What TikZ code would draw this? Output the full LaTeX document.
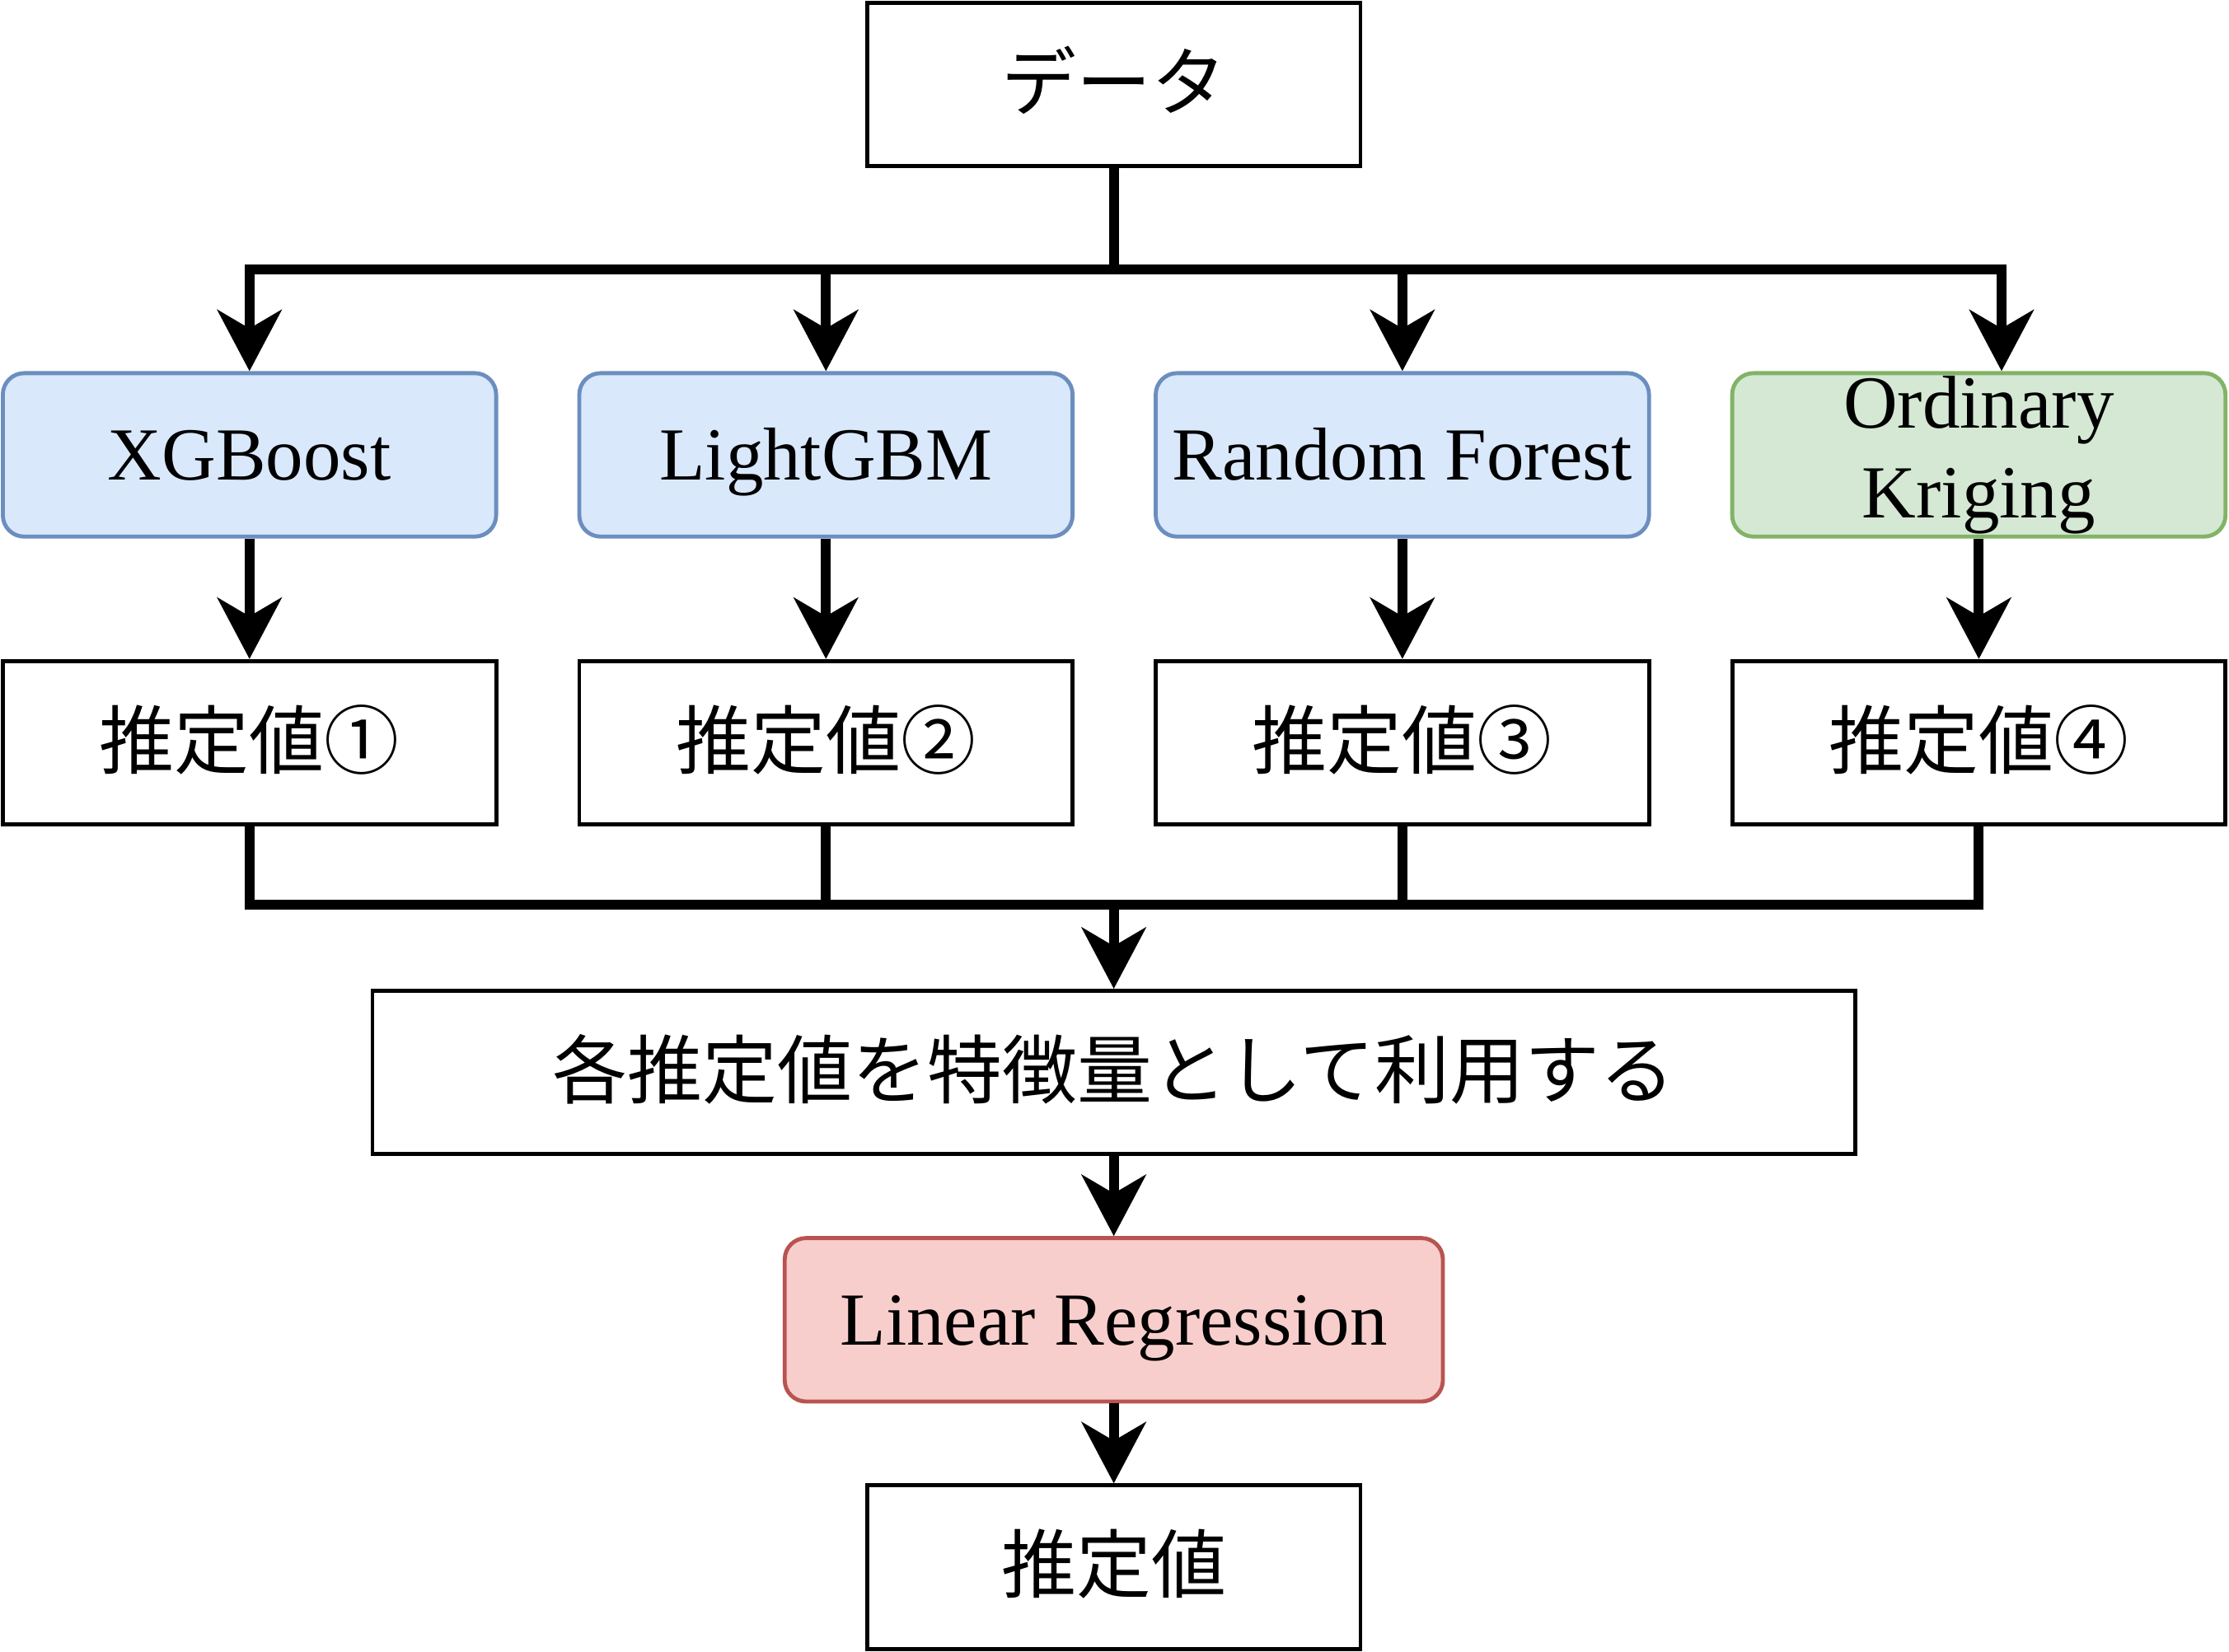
\documentclass[tikz,border=0pt]{standalone}
\usepackage{fontspec}
\setmainfont{Liberation Serif}
\newfontfamily\jp{Noto Sans CJK JP}
\usetikzlibrary{arrows.meta}

\definecolor{bluefill}{HTML}{DAE8FC}
\definecolor{blueline}{HTML}{6C8EBF}
\definecolor{greenfill}{HTML}{D5E8D4}
\definecolor{greenline}{HTML}{82B366}
\definecolor{redfill}{HTML}{F8CECC}
\definecolor{redline}{HTML}{B85450}

\tikzset{
  box/.style={draw=black, line width=0.8pt, minimum width=3.47cm, minimum height=1.15cm,
    inner sep=0pt, text height=10.5pt, text depth=0.3pt, font=\fontsize{15}{18}\selectfont},
  model/.style={box, rounded corners=0.15cm},
  conn/.style={line width=2pt},
  arr/.style={-{Stealth[length=4.3mm,width=4.5mm,inset=1.3mm]}}
}

\begin{document}
\begin{tikzpicture}
\useasboundingbox (0,0) rectangle (15.68,-11.62);
\node[box] (data) at (7.835,-0.595) {\jp データ};
\node[model, fill=bluefill, draw=blueline] (xgb) at (1.755,-3.2) {XGBoost};
\node[model, fill=bluefill, draw=blueline] (lgbm) at (5.81,-3.2) {LightGBM};
\node[model, fill=bluefill, draw=blueline] (rf) at (9.865,-3.2) {Random Forest};
\node[model, fill=greenfill, draw=greenline, align=center, text height={}, text depth={}]
  (ok) at (13.92,-3.2) {Ordinary\\Kriging};
\foreach \i/\x/\c in {1/1.755/①, 2/5.81/②, 3/9.865/③, 4/13.92/④}
  \node[box] (e\i) at (\x,-5.225) {\jp 推定値\c};
\node[box, minimum width=10.43cm] (feat) at (7.835,-7.545) {\jp 各推定値を特徴量として利用する};
\node[model, fill=redfill, draw=redline, minimum width=4.63cm] (lr) at (7.835,-9.285) {Linear Regression};
\node[box] (out) at (7.835,-11.025) {\jp 推定値};

% data to the four models
\draw[conn] (data.south) -- ++(0,-0.71) coordinate (top);
\foreach \m in {xgb,lgbm,rf}
  \draw[conn,arr] (top) -| (\m.north);
\draw[conn,arr] (top) -| ([xshift=0.16cm]ok.north);
\foreach \m/\i in {xgb/1,lgbm/2,rf/3,ok/4}
  \draw[conn,arr] (\m.south) -- (e\i.north);

% estimates into the features
\path (feat.north) ++(0,0.59) coordinate (bot);
\foreach \i in {1,...,4}
  \draw[conn] (e\i.south) |- (bot);
\draw[conn,arr] (bot) -- (feat.north);
\draw[conn,arr] (feat.south) -- (lr.north);
\draw[conn,arr] (lr.south) -- (out.north);

\end{tikzpicture}
\end{document}
